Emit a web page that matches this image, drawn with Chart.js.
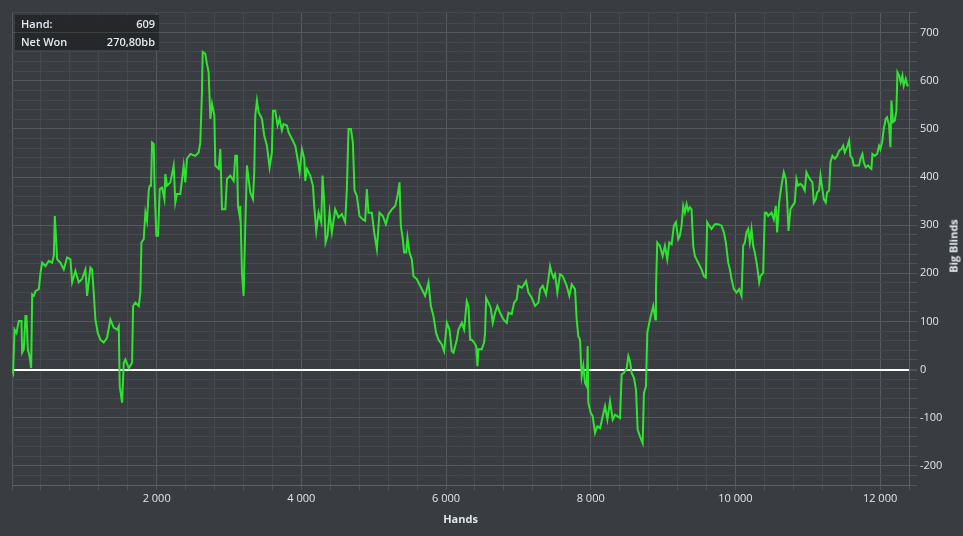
<!DOCTYPE html>
<html>
<head>
<meta charset="utf-8">
<script src="https://cdn.jsdelivr.net/npm/chart.js@4/dist/chart.umd.min.js"></script>
<style>
  body { margin: 0; background: #393c40; }
  #wrap { position: relative; width: 963px; height: 536px; background: #393c40; overflow: hidden; }
  #info {
    position: absolute; left: 15px; top: 15px; width: 144px;
    background: rgba(34, 36, 38, 0.88);
    font: 600 11px "Open Sans", sans-serif; color: #e4ebf2;
  }
  #info .row { display: flex; justify-content: space-between; height: 17px; line-height: 17px; padding: 0 4px 0 6px; }
  #info .row + .row { border-top: 1px solid #3e4144; }
  #ytitle {
    position: absolute; left: 953px; top: 246px;
    transform: translate(-50%, -50%) rotate(-90deg);
    font: bold 11px "Open Sans", sans-serif; color: #e4ebf2; white-space: nowrap;
  }
</style>
</head>
<body>
<div id="wrap">
  <canvas id="graph" width="963" height="536"></canvas>
  <div id="info">
    <div class="row"><span>Hand:</span><span>609</span></div>
    <div class="row"><span>Net Won</span><span>270,80bb</span></div>
  </div>
  <div id="ytitle">Big Blinds</div>
</div>
<script>
// hand number of each sample
const hands = [
  0, 16, 35, 62, 94, 131, 140, 163, 186, 200, 219, 242, 265, 279, 302, 325, 371, 394, 417, 463,
  509, 555, 578, 592, 610, 624, 670, 716, 762, 808, 831, 877, 923, 969, 1015, 1038, 1084, 1107, 1130, 1153,
  1186, 1222, 1268, 1314, 1360, 1406, 1453, 1476, 1489, 1522, 1545, 1568, 1614, 1660, 1674, 1706, 1752, 1775, 1789, 1821,
  1844, 1867, 1890, 1904, 1922, 1936, 1959, 1973, 1996, 2019, 2042, 2074, 2107, 2120, 2143, 2189, 2235, 2258, 2281, 2327,
  2373, 2396, 2419, 2465, 2534, 2580, 2603, 2626, 2636, 2672, 2695, 2718, 2742, 2765, 2797, 2811, 2857, 2880, 2903, 2949,
  2972, 3018, 3064, 3087, 3110, 3124, 3147,
  3156, 3179, 3202, 3225, 3248, 3271, 3294, 3331, 3349, 3363, 3386, 3409, 3455, 3487, 3524, 3561, 3593, 3607, 3639, 3672,
  3699, 3731, 3754, 3801, 3824, 3870, 3916, 3948, 3976, 4008, 4040, 4054, 4077, 4123, 4160, 4178, 4206, 4238, 4275, 4293,
  4316, 4335, 4362, 4390, 4422, 4468, 4514, 4560, 4606, 4629, 4652, 4685, 4712, 4735, 4767, 4804, 4850, 4882, 4905, 4928,
  4974, 5007, 5044, 5080, 5126, 5168, 5205, 5251, 5297, 5329, 5357, 5375, 5403, 5421, 5449, 5467, 5495, 5527, 5550, 5596,
  5642, 5711, 5757, 5790, 5826, 5863, 5895, 5941, 5974, 6011, 6048, 6080, 6103, 6149, 6172, 6218, 6250, 6287, 6310, 6333,
  6356, 6388, 6416, 6434, 6448, 6494, 6526, 6540, 6554, 6586, 6618, 6646, 6678, 6710, 6747, 6793, 6839, 6862, 6908, 6941,
  6977, 7000, 7047, 7079, 7106, 7139, 7185, 7231, 7277, 7300, 7337, 7383, 7415, 7438, 7461, 7484, 7507, 7539, 7576, 7613,
  7668, 7705, 7737, 7783, 7806, 7829, 7852, 7875, 7898, 7922, 7945, 7958, 7967, 8000, 8027, 8060, 8092, 8129, 8166, 8198,
  8230, 8267, 8304, 8336, 8368, 8405, 8428, 8460, 8497, 8520, 8543, 8566, 8598, 8626, 8649, 8681, 8718, 8736, 8764, 8782,
  8810, 8842, 8865, 8893, 8902, 8920, 8957, 8994, 9026, 9058, 9086, 9118, 9150, 9178, 9210,
  9233, 9256, 9279, 9302, 9325, 9348, 9371, 9394, 9417, 9440, 9463, 9486, 9509, 9532, 9564, 9592, 9610, 9638, 9670, 9716,
  9762, 9808, 9841, 9868, 9901, 9924, 9947, 9979, 10016, 10052, 10085, 10108, 10131, 10154, 10177, 10200, 10223, 10246, 10269, 10301,
  10329, 10347, 10384, 10407, 10430, 10453, 10499, 10531, 10559, 10577, 10605, 10637, 10669, 10697, 10715, 10734, 10761, 10789, 10821, 10844,
  10867, 10899, 10927, 10959, 10982, 11005, 11028, 11065, 11084, 11111, 11130, 11157, 11176, 11203, 11222, 11249, 11268, 11296, 11314, 11341,
  11374, 11406, 11434, 11466, 11489, 11512, 11544, 11572, 11590, 11618, 11636, 11673, 11710, 11729, 11756, 11774, 11802, 11834, 11857, 11880,
  11894, 11926, 11959, 11986, 12005, 12032, 12051, 12079, 12097, 12125, 12143, 12157, 12180, 12203, 12226, 12240, 12263, 12286, 12309, 12327,
  12355, 12378, 12395
];

// net won in big blinds at each of those hands
const netWon = [
  0, -7, 83, 76, 101, 101, 35, 42, 111, 111, 42, 28, 3, 156, 153, 163, 167, 201, 222, 215,
  226, 222, 236, 319, 271, 229, 222, 208, 233, 229, 181, 205, 181, 188, 208, 153, 212, 208, 160, 104,
  76, 62, 56, 66, 104, 87, 83, 90, -35, -69, 14, 21, 3, 14, 132, 139, 132, 160, 264, 271,
  326, 309, 372, 382, 382, 472, 469, 368, 278, 278, 375, 378, 354, 406, 382, 389, 424, 347, 365, 365,
  424, 389, 438, 448, 444, 451, 472, 576, 660, 656, 635, 618, 521, 552, 528, 424, 417, 458, 333, 333,
  396, 403, 392, 444, 444, 340, 319,
  340, 201, 153, 299, 424, 396, 368, 354, 410, 528, 559, 535, 521, 486, 465, 420, 451, 538, 538, 507,
  521, 497, 510, 507, 493, 479, 465, 438, 410, 458, 438, 392, 417, 403, 382, 340, 288, 326, 306, 403,
  347, 264, 278, 326, 285, 333, 316, 323, 306, 375, 500, 500, 472, 372, 361, 319, 312, 309, 375, 326,
  326, 285, 250, 326, 319, 302, 323, 333, 340, 361, 389, 299, 271, 243, 243, 274, 243, 229, 194, 188,
  174, 153, 181, 132, 111, 76, 62, 52, 38, 97, 83, 38, 35, 62, 83, 97, 83, 142, 132, 62,
  62, 56, 49, 7, 42, 42, 56, 76, 149, 139, 128, 97, 118, 132, 118, 104, 97, 118, 115, 139,
  146, 174, 170, 177, 184, 160, 149, 132, 139, 167, 174, 156, 188, 215, 201, 191, 198, 160, 198, 194,
  174, 153, 177, 167, 104, 69, 62, -14, 7, -28, -35, 49, -69, -90, -97, -132, -118, -122, -97, -76,
  -104, -66, -104, -94, -97, -101, -10, -7, 3, 28, 17, -7, -17, -42, -125, -139, -153, -49, -35, 76,
  97, 118, 132, 104, 167, 264, 257, 236, 257, 229, 264, 260, 299, 306, 271,
  278, 299, 340, 326, 344, 330, 337, 333, 257, 236, 229, 222, 215, 208, 194, 191, 306, 299, 292, 302,
  302, 299, 285, 264, 222, 208, 188, 167, 160, 167, 153, 257, 264, 285, 292, 264, 292, 257, 243, 215,
  181, 194, 201, 326, 326, 319, 326, 312, 340, 285, 347, 382, 410, 396, 354, 288, 333, 340, 347, 396,
  382, 386, 382, 372, 410, 403, 396, 389, 347, 354, 368, 372, 403, 375, 354, 347, 368, 372, 431, 444,
  438, 444, 455, 458, 465, 451, 462, 476, 444, 438, 424, 424, 424, 438, 448, 431, 420, 424, 420, 417,
  448, 444, 448, 465, 458, 476, 500, 521, 524, 507, 462, 559, 514, 517, 538, 618, 611, 597, 611, 590,
  604, 590, 590
];

const xMajorStep = 2000;
const yMajorStep = 100;

const textColor = '#dfe7ee';
const minorGrid = '#45484c';
const majorGrid = '#56595d';
const tickFont = { family: '"Open Sans", sans-serif', size: 11 };

// "12 000" style thousands
function formatHands(v) {
    return String(v).replace(/\B(?=(\d{3})+(?!\d))/g, ' ');
}

const points = hands.map((h, i) => ({ x: h, y: netWon[i] }));

const ctx = document.querySelector('#graph').getContext('2d');
const chart = new Chart(ctx, {
    type: 'line',
    data: {
        datasets: [{
            data: points,
            borderColor: '#31e331',
            borderWidth: 2,
            pointRadius: 0,
            tension: 0,
            fill: false
        }]
    },
    options: {
        responsive: false,
        animation: false,
        layout: { padding: { top: 12, left: 12, right: 0, bottom: 0 } },
        plugins: { legend: { display: false }, tooltip: { enabled: false } },
        scales: {
            x: {
                type: 'linear',
                min: 0,
                max: 12400,
                afterFit: function(scale) { scale.height = 51; },
                ticks: {
                    stepSize: 400,
                    autoSkip: false,
                    maxRotation: 0,
                    padding: 2,
                    color: textColor,
                    font: tickFont,
                    callback: v => (v > 0 && v % xMajorStep === 0) ? formatHands(v) : ''
                },
                grid: {
                    color: c => (c.tick && c.tick.value % xMajorStep === 0) ? majorGrid : minorGrid,
                    tickColor: '#505357',
                    tickLength: 5
                },
                border: { color: '#5d6064' },
                title: {
                    display: true,
                    text: 'Hands',
                    color: textColor,
                    font: { family: '"Open Sans", sans-serif', size: 11, weight: 'bold' },
                    padding: { top: 0, bottom: 10 }
                }
            },
            y: {
                position: 'right',
                min: -240,
                max: 743,
                afterFit: function(scale) { scale.width = 54; },
                ticks: {
                    stepSize: 20,
                    autoSkip: false,
                    padding: 3,
                    color: textColor,
                    font: tickFont,
                    callback: v => (v % yMajorStep === 0) ? String(v) : ''
                },
                grid: {
                    color: c => {
                        if (!c.tick) return minorGrid;
                        if (c.tick.value === 0) return '#ffffff';
                        return c.tick.value % yMajorStep === 0 ? majorGrid : minorGrid;
                    },
                    lineWidth: c => (c.tick && c.tick.value === 0) ? 2 : 1,
                    tickColor: '#505357',
                    tickLength: 8
                },
                border: { color: '#5d6064' }
            }
        }
    }
});
</script>
</body>
</html>
